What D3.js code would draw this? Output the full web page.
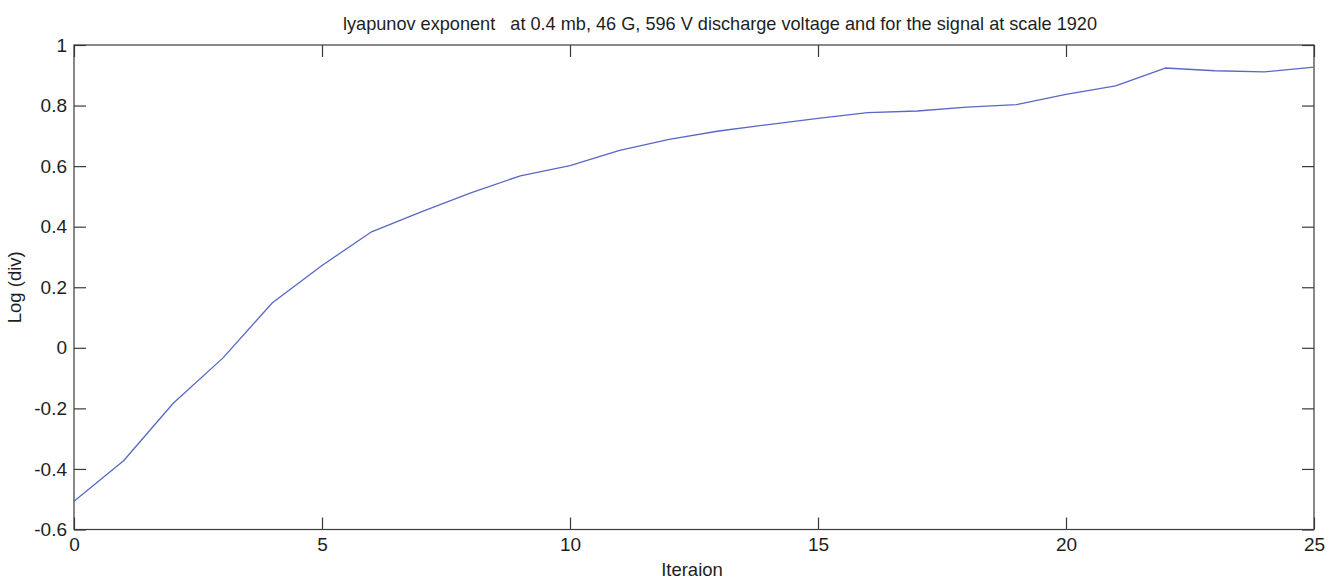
<!DOCTYPE html>
<html>
<head>
<meta charset="utf-8">
<script src="https://cdn.jsdelivr.net/npm/d3@7"></script>
<style>
  html, body { margin: 0; padding: 0; background: #fff; }
  svg { display: block; font-family: "Liberation Sans", Arial, sans-serif; }
</style>
</head>
<body>
<svg id="chart" width="1336" height="579"></svg>
<script>
// Iteration index and log divergence values
const iterations = [0, 1, 2, 3, 4, 5, 6, 7, 8, 9, 10, 11, 12, 13, 14, 15, 16, 17, 18, 19, 20, 21, 22, 23, 24, 25];
const logDiv = [-0.507, -0.373, -0.183, -0.034, 0.149, 0.272, 0.383, 0.449, 0.512, 0.568, 0.602, 0.652, 0.688, 0.716, 0.737, 0.758, 0.777, 0.782, 0.795, 0.803, 0.837, 0.865, 0.924, 0.915, 0.911, 0.927];
const xTicks = [0, 5, 10, 15, 20, 25];
const yTicks = [-0.6, -0.4, -0.2, 0, 0.2, 0.4, 0.6, 0.8, 1];

const titleText = "lyapunov exponent   at 0.4 mb, 46 G, 596 V discharge voltage and for the signal at scale 1920";
const xLabel = "Iteraion";
const yLabel = "Log (div)";

const svg = d3.select("#chart");
const plot = { left: 74, right: 1314, top: 45, bottom: 529.5 };
const axisColor = "#3a3a3a";
const textColor = "#1e1e1e";
const tickLen = 12;

const x = d3.scaleLinear().domain([0, 25]).range([plot.left, plot.right]);
const y = d3.scaleLinear().domain([-0.6, 1]).range([plot.bottom, plot.top]);

// Plot box
svg.append("rect")
  .attr("x", plot.left).attr("y", plot.top)
  .attr("width", plot.right - plot.left).attr("height", plot.bottom - plot.top)
  .attr("fill", "none").attr("stroke", axisColor).attr("stroke-width", 1.2);

const fmt = d => (d === 0 ? "0" : String(+d.toFixed(1)));

// Bottom axis (ticks point inward)
const gx = svg.append("g").attr("transform", `translate(0,${plot.bottom})`)
  .call(d3.axisBottom(x).tickValues(xTicks).tickSize(-tickLen).tickPadding(8).tickFormat(d3.format("d")));
// Top mirror ticks
svg.append("g").attr("transform", `translate(0,${plot.top})`)
  .call(d3.axisTop(x).tickValues(xTicks).tickSize(-tickLen).tickFormat(""));
// Left axis
const gy = svg.append("g").attr("transform", `translate(${plot.left},0)`)
  .call(d3.axisLeft(y).tickValues(yTicks).tickSize(-tickLen).tickPadding(7).tickFormat(fmt));
// Right mirror ticks
svg.append("g").attr("transform", `translate(${plot.right},0)`)
  .call(d3.axisRight(y).tickValues(yTicks).tickSize(-tickLen).tickFormat(""));

svg.selectAll(".domain").remove();
svg.selectAll(".tick line").attr("stroke", axisColor).attr("stroke-width", 1.2);
svg.selectAll(".tick text")
  .attr("fill", textColor).style("font-size", "19px")
  .style("font-family", "'Liberation Sans', Arial, sans-serif");

// Data line
const line = d3.line().x((d, i) => x(iterations[i])).y(d => y(d));
svg.append("path")
  .datum(logDiv)
  .attr("d", line)
  .attr("fill", "none")
  .attr("stroke", "#5868c6")
  .attr("stroke-width", 1.3)
  .attr("stroke-linejoin", "round");

// Title
svg.append("text")
  .attr("x", 343).attr("y", 30)
  .attr("xml:space", "preserve")
  .style("white-space", "pre")
  .attr("fill", textColor)
  .style("font-size", "18.5px")
  .attr("textLength", 754)
  .attr("lengthAdjust", "spacingAndGlyphs")
  .text(titleText);

// Axis titles
svg.append("text")
  .attr("x", 692).attr("y", 576)
  .attr("text-anchor", "middle")
  .attr("fill", textColor).style("font-size", "18.5px")
  .text(xLabel);

svg.append("text")
  .attr("transform", `translate(21,${(plot.top + plot.bottom) / 2}) rotate(-90)`)
  .attr("text-anchor", "middle")
  .attr("fill", textColor).style("font-size", "18.5px")
  .text(yLabel);
</script>
</body>
</html>
